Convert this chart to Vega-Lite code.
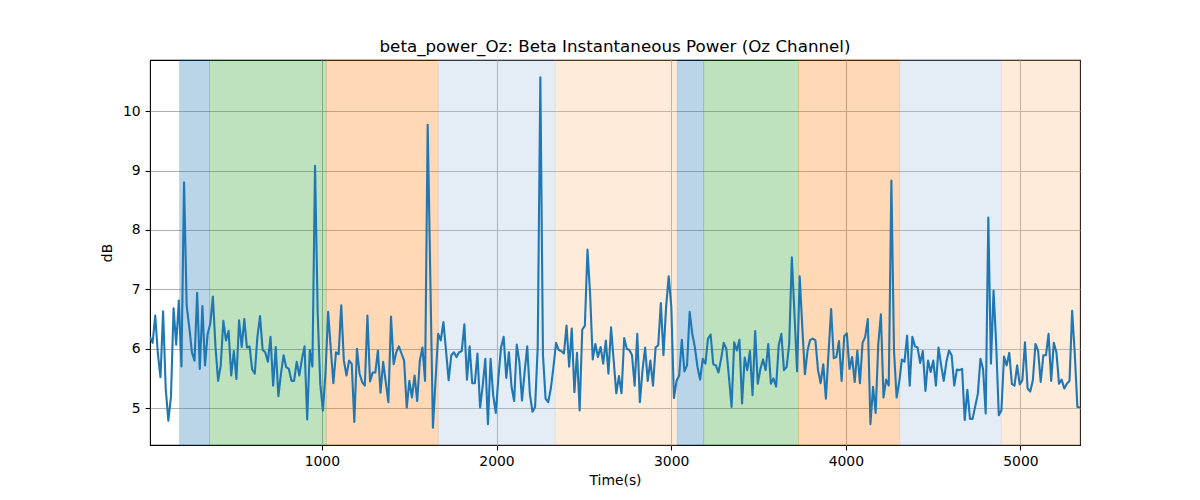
{
  "$schema": "https://vega.github.io/schema/vega-lite/v6.json",
  "width": 930,
  "height": 385,
  "autosize": {"type": "none"},
  "padding": {"left": 150, "top": 60, "right": 120, "bottom": 55},
  "background": "white",
  "title": {"text": "beta_power_Oz: Beta Instantaneous Power (Oz Channel)", "fontSize": 16.7, "fontWeight": "normal", "font": "DejaVu Sans", "color": "#000", "baseline": "alphabetic", "offset": -9},
  "config": {
    "font": "DejaVu Sans",
    "view": {"stroke": "#000", "strokeWidth": 1.1},
    "axis": {"grid": true, "gridColor": "#b0b0b0", "gridWidth": 1.1, "domain": false, "tickColor": "#000", "tickSize": 4.9, "tickWidth": 1.1, "labelPadding": 4.9, "labelFontSize": 13.9, "labelColor": "#000", "labelFont": "DejaVu Sans", "titleFontSize": 13.9, "titleFontWeight": "normal", "titleColor": "#000", "titleFont": "DejaVu Sans"}
  },
  "datasets": {
    "bands": [
      {"start": 186, "end": 357, "phase": "p1"},
      {"start": 357, "end": 1025, "phase": "p2"},
      {"start": 1025, "end": 1666, "phase": "p3"},
      {"start": 1666, "end": 2336, "phase": "p4"},
      {"start": 2336, "end": 3035, "phase": "p5"},
      {"start": 3035, "end": 3186, "phase": "p1"},
      {"start": 3186, "end": 3730, "phase": "p2"},
      {"start": 3730, "end": 4308, "phase": "p3"},
      {"start": 4308, "end": 4891, "phase": "p4"},
      {"start": 4891, "end": 5341, "phase": "p5"}
    ],
    "power": [
      {"t":16,"v":6.20},{"t":31,"v":6.10},{"t":46,"v":6.56},{"t":61,"v":5.92},{"t":76,"v":5.52},{"t":91,"v":6.63},{"t":106,"v":5.33},{"t":121,"v":4.79},{"t":136,"v":5.19},{"t":151,"v":6.68},
      {"t":166,"v":6.07},{"t":181,"v":6.81},{"t":196,"v":5.70},{"t":211,"v":8.80},{"t":226,"v":6.72},{"t":241,"v":6.36},{"t":256,"v":5.94},{"t":271,"v":5.80},{"t":286,"v":6.94},{"t":301,"v":5.66},
      {"t":316,"v":6.72},{"t":331,"v":5.72},{"t":346,"v":6.25},{"t":361,"v":6.42},{"t":376,"v":6.88},{"t":391,"v":6.03},{"t":406,"v":5.46},{"t":421,"v":5.72},{"t":436,"v":6.47},{"t":451,"v":6.14},
      {"t":466,"v":6.30},{"t":481,"v":5.55},{"t":496,"v":5.96},{"t":511,"v":5.49},{"t":526,"v":6.48},{"t":541,"v":6.03},{"t":556,"v":6.50},{"t":571,"v":6.02},{"t":586,"v":6.04},{"t":601,"v":5.65},
      {"t":616,"v":5.58},{"t":631,"v":6.20},{"t":646,"v":6.55},{"t":661,"v":5.98},{"t":676,"v":5.94},{"t":691,"v":5.78},{"t":706,"v":6.20},{"t":721,"v":5.38},{"t":736,"v":6.03},{"t":751,"v":5.20},
      {"t":766,"v":5.58},{"t":781,"v":5.89},{"t":796,"v":5.69},{"t":811,"v":5.66},{"t":826,"v":5.46},{"t":841,"v":5.46},{"t":856,"v":5.78},{"t":871,"v":5.55},{"t":886,"v":5.83},{"t":901,"v":6.04},
      {"t":916,"v":4.81},{"t":931,"v":5.98},{"t":946,"v":5.70},{"t":961,"v":9.08},{"t":976,"v":6.6},{"t":991,"v":5.4},{"t":1006,"v":4.96},{"t":1021,"v":5.6},{"t":1036,"v":6.62},{"t":1051,"v":6.0},
      {"t":1066,"v":5.42},{"t":1081,"v":5.94},{"t":1096,"v":5.91},{"t":1111,"v":6.73},{"t":1126,"v":5.80},{"t":1141,"v":5.55},{"t":1156,"v":5.80},{"t":1171,"v":5.75},{"t":1186,"v":4.77},{"t":1201,"v":6.00},
      {"t":1216,"v":5.58},{"t":1231,"v":5.44},{"t":1246,"v":5.38},{"t":1261,"v":6.56},{"t":1276,"v":5.45},{"t":1291,"v":5.60},{"t":1306,"v":5.60},{"t":1321,"v":5.97},{"t":1336,"v":5.26},{"t":1351,"v":5.78},
      {"t":1366,"v":5.44},{"t":1381,"v":5.10},{"t":1396,"v":6.54},{"t":1411,"v":5.74},{"t":1426,"v":5.94},{"t":1441,"v":6.04},{"t":1456,"v":5.92},{"t":1471,"v":5.80},{"t":1486,"v":5.01},{"t":1501,"v":5.46},
      {"t":1516,"v":5.18},{"t":1531,"v":5.55},{"t":1546,"v":5.12},{"t":1561,"v":5.80},{"t":1576,"v":6.02},{"t":1591,"v":5.46},{"t":1606,"v":9.77},{"t":1621,"v":7.2},{"t":1636,"v":4.67},{"t":1651,"v":5.47},
      {"t":1666,"v":6.25},{"t":1681,"v":6.14},{"t":1696,"v":6.45},{"t":1711,"v":5.97},{"t":1726,"v":5.47},{"t":1741,"v":5.89},{"t":1756,"v":5.94},{"t":1771,"v":5.86},{"t":1786,"v":5.94},{"t":1801,"v":5.96},
      {"t":1816,"v":6.41},{"t":1831,"v":5.48},{"t":1846,"v":6.04},{"t":1861,"v":5.42},{"t":1876,"v":5.42},{"t":1891,"v":5.92},{"t":1906,"v":5.01},{"t":1921,"v":5.38},{"t":1936,"v":5.83},{"t":1951,"v":4.73},
      {"t":1966,"v":5.83},{"t":1981,"v":5.22},{"t":1996,"v":4.92},{"t":2011,"v":5.52},{"t":2026,"v":6.02},{"t":2041,"v":6.20},{"t":2056,"v":5.51},{"t":2071,"v":5.94},{"t":2086,"v":5.36},{"t":2101,"v":5.12},
      {"t":2116,"v":6.07},{"t":2131,"v":5.78},{"t":2146,"v":5.13},{"t":2161,"v":5.61},{"t":2176,"v":6.04},{"t":2191,"v":5.24},{"t":2206,"v":4.94},{"t":2221,"v":5.02},{"t":2236,"v":6.03},{"t":2251,"v":10.57},
      {"t":2266,"v":5.9},{"t":2281,"v":5.16},{"t":2296,"v":5.10},{"t":2311,"v":5.33},{"t":2326,"v":5.69},{"t":2341,"v":6.10},{"t":2356,"v":5.98},{"t":2371,"v":5.96},{"t":2386,"v":5.92},{"t":2401,"v":6.39},
      {"t":2416,"v":5.70},{"t":2431,"v":6.34},{"t":2446,"v":5.27},{"t":2461,"v":5.93},{"t":2476,"v":4.96},{"t":2491,"v":6.32},{"t":2506,"v":6.39},{"t":2521,"v":7.67},{"t":2536,"v":6.92},{"t":2551,"v":5.82},
      {"t":2566,"v":6.08},{"t":2581,"v":5.86},{"t":2596,"v":6.03},{"t":2611,"v":5.75},{"t":2626,"v":6.14},{"t":2641,"v":5.58},{"t":2656,"v":6.36},{"t":2671,"v":5.80},{"t":2686,"v":5.25},{"t":2701,"v":5.54},
      {"t":2716,"v":5.25},{"t":2731,"v":6.18},{"t":2746,"v":6.00},{"t":2761,"v":5.98},{"t":2776,"v":5.89},{"t":2791,"v":5.38},{"t":2806,"v":6.25},{"t":2821,"v":5.10},{"t":2836,"v":5.64},{"t":2851,"v":6.02},
      {"t":2866,"v":5.46},{"t":2881,"v":5.80},{"t":2896,"v":5.38},{"t":2911,"v":6.02},{"t":2926,"v":6.06},{"t":2941,"v":6.77},{"t":2956,"v":5.89},{"t":2971,"v":6.70},{"t":2986,"v":7.22},{"t":3001,"v":6.70},
      {"t":3016,"v":5.17},{"t":3031,"v":5.46},{"t":3046,"v":5.55},{"t":3061,"v":6.15},{"t":3076,"v":5.62},{"t":3091,"v":5.72},{"t":3106,"v":6.62},{"t":3121,"v":6.25},{"t":3136,"v":6.02},{"t":3151,"v":5.69},
      {"t":3166,"v":5.48},{"t":3181,"v":5.83},{"t":3196,"v":5.75},{"t":3211,"v":6.17},{"t":3226,"v":6.24},{"t":3241,"v":5.74},{"t":3256,"v":5.72},{"t":3271,"v":5.60},{"t":3286,"v":5.83},{"t":3301,"v":6.10},
      {"t":3316,"v":6.00},{"t":3331,"v":5.52},{"t":3346,"v":5.02},{"t":3361,"v":6.11},{"t":3376,"v":5.97},{"t":3391,"v":6.15},{"t":3406,"v":5.08},{"t":3421,"v":5.85},{"t":3436,"v":5.64},{"t":3451,"v":5.96},
      {"t":3466,"v":5.22},{"t":3481,"v":6.30},{"t":3496,"v":5.41},{"t":3511,"v":5.66},{"t":3526,"v":5.82},{"t":3541,"v":5.64},{"t":3556,"v":6.08},{"t":3571,"v":5.41},{"t":3586,"v":5.50},{"t":3601,"v":5.36},
      {"t":3616,"v":6.06},{"t":3631,"v":6.25},{"t":3646,"v":5.64},{"t":3661,"v":5.69},{"t":3676,"v":6.08},{"t":3691,"v":7.54},{"t":3706,"v":6.59},{"t":3721,"v":5.62},{"t":3736,"v":7.22},{"t":3751,"v":6.36},
      {"t":3766,"v":5.57},{"t":3781,"v":5.97},{"t":3796,"v":6.15},{"t":3811,"v":6.17},{"t":3826,"v":6.14},{"t":3841,"v":5.64},{"t":3856,"v":5.42},{"t":3871,"v":5.74},{"t":3886,"v":5.16},{"t":3901,"v":5.92},
      {"t":3916,"v":6.67},{"t":3931,"v":5.84},{"t":3946,"v":5.86},{"t":3961,"v":6.13},{"t":3976,"v":5.46},{"t":3991,"v":6.21},{"t":4006,"v":6.26},{"t":4021,"v":5.66},{"t":4036,"v":5.86},{"t":4051,"v":5.44},
      {"t":4066,"v":5.97},{"t":4081,"v":5.42},{"t":4096,"v":6.10},{"t":4111,"v":6.20},{"t":4126,"v":6.50},{"t":4141,"v":4.73},{"t":4156,"v":5.36},{"t":4171,"v":4.92},{"t":4186,"v":6.08},{"t":4201,"v":6.58},
      {"t":4216,"v":5.18},{"t":4231,"v":5.48},{"t":4246,"v":5.38},{"t":4261,"v":8.83},{"t":4276,"v":5.97},{"t":4291,"v":5.18},{"t":4306,"v":5.44},{"t":4321,"v":5.82},{"t":4336,"v":5.78},{"t":4351,"v":6.22},
      {"t":4366,"v":5.38},{"t":4381,"v":6.20},{"t":4396,"v":6.04},{"t":4411,"v":6.02},{"t":4426,"v":5.76},{"t":4441,"v":5.96},{"t":4456,"v":5.29},{"t":4471,"v":5.80},{"t":4486,"v":5.61},{"t":4501,"v":5.80},
      {"t":4516,"v":5.38},{"t":4531,"v":6.02},{"t":4546,"v":5.72},{"t":4561,"v":5.46},{"t":4576,"v":5.78},{"t":4591,"v":5.97},{"t":4606,"v":5.89},{"t":4621,"v":5.38},{"t":4636,"v":5.65},{"t":4651,"v":5.64},
      {"t":4666,"v":5.66},{"t":4681,"v":4.80},{"t":4696,"v":5.31},{"t":4711,"v":4.82},{"t":4726,"v":4.82},{"t":4741,"v":5.03},{"t":4756,"v":5.24},{"t":4771,"v":5.83},{"t":4786,"v":5.66},{"t":4801,"v":4.91},
      {"t":4816,"v":8.21},{"t":4831,"v":5.75},{"t":4846,"v":6.98},{"t":4861,"v":6.08},{"t":4876,"v":4.88},{"t":4891,"v":4.96},{"t":4906,"v":5.87},{"t":4921,"v":5.72},{"t":4936,"v":5.93},{"t":4951,"v":5.41},
      {"t":4966,"v":5.38},{"t":4981,"v":5.72},{"t":4996,"v":5.40},{"t":5011,"v":5.47},{"t":5026,"v":6.11},{"t":5041,"v":5.33},{"t":5056,"v":5.28},{"t":5071,"v":5.47},{"t":5086,"v":6.08},{"t":5101,"v":5.97},
      {"t":5116,"v":5.44},{"t":5131,"v":5.89},{"t":5146,"v":5.89},{"t":5161,"v":6.25},{"t":5176,"v":5.46},{"t":5191,"v":6.10},{"t":5206,"v":5.94},{"t":5221,"v":5.41},{"t":5236,"v":5.48},{"t":5251,"v":5.33},
      {"t":5266,"v":5.41},{"t":5281,"v":5.46},{"t":5296,"v":6.64},{"t":5311,"v":5.92},{"t":5326,"v":5.02},{"t":5341,"v":5.01}
    ]
  },
  "layer": [
    {
      "data": {"name": "bands"},
      "mark": {"type": "rect", "strokeWidth": 1, "opacity": 0.3},
      "encoding": {
        "x": {"field": "start", "type": "quantitative", "scale": {"domain": [16, 5341], "nice": false, "zero": false}, "axis": {"title": "Time(s)", "values": [1000, 2000, 3000, 4000, 5000], "format": "d", "titlePadding": 5}},
        "x2": {"field": "end"},
        "color": {"field": "phase", "type": "nominal", "scale": {"domain": ["p1", "p2", "p3", "p4", "p5"], "range": ["#1f77b4", "#2ca02c", "#ff7f0e", "#a8c3e4", "#ffc087"]}, "legend": null},
        "stroke": {"field": "phase", "type": "nominal", "scale": {"domain": ["p1", "p2", "p3", "p4", "p5"], "range": ["#1f77b4", "#2ca02c", "#ff7f0e", "#a8c3e4", "#ffc087"]}, "legend": null}
      }
    },
    {
      "data": {"name": "power"},
      "mark": {"type": "line", "color": "#1f77b4", "strokeWidth": 2.1, "strokeJoin": "round", "clip": true},
      "encoding": {
        "x": {"field": "t", "type": "quantitative", "scale": {"domain": [16, 5341], "nice": false, "zero": false}, "axis": {"title": "Time(s)", "values": [1000, 2000, 3000, 4000, 5000], "format": "d", "titlePadding": 5}},
        "y": {"field": "v", "type": "quantitative", "scale": {"domain": [4.38, 10.86], "nice": false, "zero": false}, "axis": {"title": "dB", "values": [5, 6, 7, 8, 9, 10], "titlePadding": 8}}
      }
    }
  ]
}
